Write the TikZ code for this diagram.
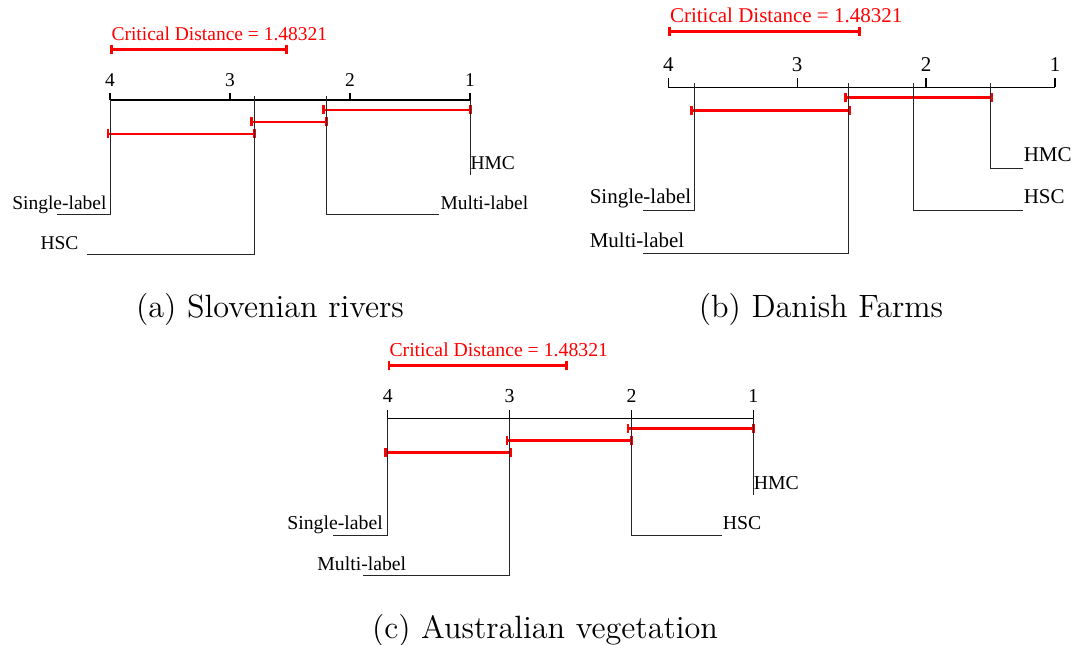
\documentclass[tikz,border=0pt]{standalone}
\usepackage{fontspec}
\usepackage{tikz}
\usetikzlibrary{arrows.meta}
\newfontfamily\cdfont{Liberation Serif}

\tikzset{
  axisline/.style={black, line width=0.5pt},
  linkline/.style={black!85, line width=0.4pt},
  cdbar/.style={red, line width=1.1pt, {Bar[width=3.6pt]}-{Bar[width=3.6pt]}},
  cdtext/.style={red, anchor=base west},
  subcap/.style={anchor=base, inner sep=0pt, font=\fontsize{12.9}{15.5}\selectfont},
}

\begin{document}
\begin{tikzpicture}[x=0.4pt, y=-0.4pt]
    \useasboundingbox (0,0) rectangle (1074,645);

    % (a) Slovenian rivers
    \begin{scope}[every node/.style={inner sep=0pt, font=\cdfont\fontsize{7.8}{9.4}\selectfont}]
        \node[cdtext] (acd) at (111,40.7) {Critical Distance = 1.48321};
        \draw[cdbar] (110,49.3) -- (288,49.3);
        \draw[axisline] (110,100) -- (470,100);
        \foreach \r/\xx in {4/110, 3/230, 2/350, 1/470} {
            \draw[axisline] (\xx,92.7) -- (\xx,100);
            \node[anchor=base] (a\r) at (\xx,86.7) {\r};
        }
        \draw[cdbar] (322,110) -- (472,110);
        \draw[cdbar] (250,122) -- (328,122);
        \draw[cdbar] (106.6,134) -- (256,134);
        \draw[linkline] (470,100) -- (470,175);
        \node[anchor=base west] (aHMC) at (470,170) {HMC};
        \draw[linkline] (326,96) |- (439,215);
        \node[anchor=base west] (aML) at (440,209.3) {Multi-label};
        \draw[linkline] (110,100) |- (57,215);
        \node[anchor=base east] (aSL) at (107,209.3) {Single-label};
        \draw[linkline] (254.8,96) |- (87,255);
        \node[anchor=base east] (aHSC) at (79,249.3) {HSC};
    \end{scope}
    \node[subcap] (capa) at (270,317.3) {(a) Slovenian rivers};

    % (b) Danish Farms
    \begin{scope}[every node/.style={inner sep=0pt, font=\cdfont\fontsize{8.4}{10}\selectfont}]
        \node[cdtext] (bcd) at (669.5,22.7) {Critical Distance = 1.48321};
        \draw[cdbar] (668.3,31.7) -- (860.7,31.7);
        \draw[axisline] (668.3,87.3) -- (1055,87.3);
        \foreach \r/\xx in {4/668.3, 3/797.2, 2/926.1, 1/1055} {
            \draw[axisline] (\xx,78.3) -- (\xx,87.3);
            \node[anchor=base] (b\r) at (\xx,71.7) {\r};
        }
        \draw[cdbar] (844.3,97.7) -- (993.3,97.7);
        \draw[cdbar] (690,110.7) -- (851,110.7);
        \draw[linkline] (694.3,83.3) |- (643.3,211);
        \node[anchor=base west] (bSL) at (589.3,204) {Single-label};
        \draw[linkline] (848.7,83.3) |- (643.3,254);
        \node[anchor=base west] (bML) at (589.3,247.3) {Multi-label};
        \draw[linkline] (913.3,83.3) |- (1023.3,211);
        \node[anchor=base west] (bHSC) at (1023.3,204) {HSC};
        \draw[linkline] (990.7,83.3) |- (1023.3,168.3);
        \node[anchor=base west] (bHMC) at (1023.3,161.7) {HMC};
    \end{scope}
    \node[subcap] (capb) at (821,317.3) {(b) Danish Farms};

    % (c) Australian vegetation
    \begin{scope}[every node/.style={inner sep=0pt, font=\cdfont\fontsize{7.9}{9.5}\selectfont}]
        \node[cdtext] (ccd) at (389,356.7) {Critical Distance = 1.48321};
        \draw[cdbar] (387.7,365.7) -- (567.7,365.7);
        \draw[axisline] (387.7,418.3) -- (753.3,418.3);
        \foreach \r/\xx in {4/387.7, 3/509.6, 2/631.5, 1/753.3} {
            \draw[axisline] (\xx,410) -- (\xx,418.3);
            \node[anchor=base] (c\r) at (\xx,402.7) {\r};
        }
        \draw[cdbar] (626.7,428.3) -- (755,428.3);
        \draw[cdbar] (505.7,440.3) -- (632.7,440.3);
        \draw[cdbar] (384,452.3) -- (511.7,452.3);
        \draw[linkline] (387.7,418.3) |- (333.3,535.7);
        \node[anchor=base east] (cSL) at (383.3,530) {Single-label};
        \draw[linkline] (509.6,418.3) |- (363.3,575.7);
        \node[anchor=base east] (cML) at (406.7,570) {Multi-label};
        \draw[linkline] (631.5,418.3) |- (722.3,535.7);
        \node[anchor=base west] (cHSC) at (722.3,530) {HSC};
        \draw[linkline] (753.3,418.3) -- (753.3,495);
        \node[anchor=base west] (cHMC) at (753.3,489) {HMC};
    \end{scope}
    \node[subcap] (capc) at (545,638.3) {(c) Australian vegetation};
\end{tikzpicture}
\end{document}
